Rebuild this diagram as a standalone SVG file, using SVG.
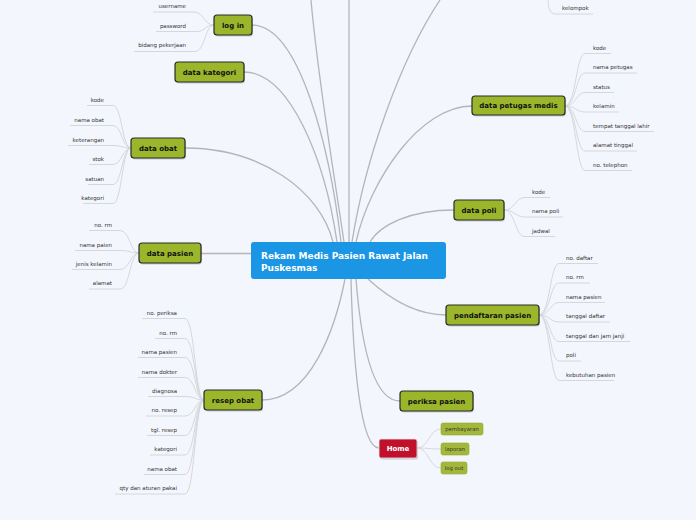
<svg xmlns="http://www.w3.org/2000/svg" width="696" height="520" viewBox="0 0 696 520">
<style>
.bg{fill:#f3f6fd}
.main{fill:none;stroke:#b5b5b8;stroke-width:1.3}
.leaf{fill:none;stroke:#d3d4d8;stroke-width:0.9}
.n{fill:#9cb62b;stroke:#2a2a2a;stroke-width:1.2}
.sh{fill:#000;opacity:0.18}
.nt{font-family:"DejaVu Sans",Verdana,sans-serif;font-weight:bold;font-size:7px;fill:#111;text-anchor:middle}
.lt{font-family:"DejaVu Sans",Verdana,sans-serif;font-size:5.5px;fill:#333}
.r{text-anchor:end}
.sub{fill:#a3b83a;stroke:#93a82e;stroke-width:0.6}
.st{font-family:"DejaVu Sans",Verdana,sans-serif;font-size:5.3px;fill:#333;text-anchor:middle}
</style>
<rect class="bg" width="696" height="520"/>
<g id="connectors">
<path class="main" d="M252 25 C300 25 330 150 341 242"/>
<path class="main" d="M244 72 C290 72 325 160 337 242"/>
<path class="main" d="M185 148 C260 148 320 190 333 242"/>
<path class="main" d="M311 0 C318 80 335 180 344 242"/>
<path class="main" d="M349 0 V242"/>
<path class="main" d="M440 0 C400 60 365 160 352 242"/>
<path class="main" d="M472 106 C420 106 370 180 356 242"/>
<path class="main" d="M454 210 C410 210 380 225 370 242"/>
<path class="main" d="M446 315 C410 315 380 290 368 279"/>
<path class="main" d="M400 401 C370 401 360 330 356 279"/>
<path class="main" d="M379 448 C360 448 353 360 351 279"/>
<path class="main" d="M262 400 C310 400 335 330 345 279"/>
<path class="main" d="M201 253.5 H251"/>
<path class="leaf" d="M548 0 C548 8 550 14 556 14 H593"/>
<path class="leaf" d="M153 12 H194 C204 12 204 25 214 25"/>
<path class="leaf" d="M156 31.5 H197 C205 31.5 205 25 214 25"/>
<path class="leaf" d="M134 51.5 H195 C205 51.5 205 25 214 25"/>
<path class="leaf" d="M87 105.5 H113 C122 105.5 122 148 131 148"/>
<path class="leaf" d="M70 125.5 H113 C122 125.5 122 148 131 148"/>
<path class="leaf" d="M68 145.5 H113 C122 145.5 122 148 131 148"/>
<path class="leaf" d="M89 164.5 H113 C122 164.5 122 148 131 148"/>
<path class="leaf" d="M88 184.5 H113 C122 184.5 122 148 131 148"/>
<path class="leaf" d="M83 203.5 H113 C122 203.5 122 148 131 148"/>
<path class="leaf" d="M89 230.5 H120 C130 230.5 130 253 139 253"/>
<path class="leaf" d="M75 250.5 H120 C130 250.5 130 253 139 253"/>
<path class="leaf" d="M72 269.5 H120 C130 269.5 130 253 139 253"/>
<path class="leaf" d="M89 289 H120 C130 289 130 253 139 253"/>
<path class="leaf" d="M142 318.5 H185 C195 318.5 195 400 204 400"/>
<path class="leaf" d="M155 338.5 H185 C195 338.5 195 400 204 400"/>
<path class="leaf" d="M138 357.5 H185 C195 357.5 195 400 204 400"/>
<path class="leaf" d="M138 377.5 H185 C195 377.5 195 400 204 400"/>
<path class="leaf" d="M148 396.5 H185 C195 396.5 195 400 204 400"/>
<path class="leaf" d="M146 416 H185 C195 416 195 400 204 400"/>
<path class="leaf" d="M147 435.5 H185 C195 435.5 195 400 204 400"/>
<path class="leaf" d="M150 455 H185 C195 455 195 400 204 400"/>
<path class="leaf" d="M144 474.5 H185 C195 474.5 195 400 204 400"/>
<path class="leaf" d="M115 494 H185 C195 494 195 400 204 400"/>
<path class="leaf" d="M565 106 C576 106 576 53.5 585 53.5 H611"/>
<path class="leaf" d="M565 106 C576 106 576 73 585 73 H637"/>
<path class="leaf" d="M565 106 C576 106 576 92.5 585 92.5 H614"/>
<path class="leaf" d="M565 106 C576 106 576 112 585 112 H619"/>
<path class="leaf" d="M565 106 C576 106 576 131.5 585 131.5 H654"/>
<path class="leaf" d="M565 106 C576 106 576 151 585 151 H637"/>
<path class="leaf" d="M565 106 C576 106 576 170.5 585 170.5 H632"/>
<path class="leaf" d="M504 210 C515 210 515 197.5 525 197.5 H550"/>
<path class="leaf" d="M504 210 C515 210 515 217 525 217 H563"/>
<path class="leaf" d="M504 210 C515 210 515 236.5 525 236.5 H555"/>
<path class="leaf" d="M539 315 C550 315 550 263.5 559 263.5 H598"/>
<path class="leaf" d="M539 315 C550 315 550 283 559 283 H590"/>
<path class="leaf" d="M539 315 C550 315 550 302.5 559 302.5 H605"/>
<path class="leaf" d="M539 315 C550 315 550 322 559 322 H610"/>
<path class="leaf" d="M539 315 C550 315 550 341.5 559 341.5 H630"/>
<path class="leaf" d="M539 315 C550 315 550 361 559 361 H581"/>
<path class="leaf" d="M539 315 C550 315 550 380.5 559 380.5 H614"/>
<path class="leaf" d="M417 448 C429 448 429 429 441 429"/>
<path class="leaf" d="M417 448 C429 448 429 449 441 449"/>
<path class="leaf" d="M417 448 C429 448 429 468 441 468"/>
</g>
<g id="kelompok"><text class="lt" x="562" y="10">kelompok</text></g>
<g id="center">
<rect x="251" y="242" width="195" height="37" rx="3" fill="#1a96e4"/>
<text x="261" y="259" font-family="DejaVu Sans,Verdana,sans-serif" font-weight="bold" font-size="9" fill="#fff">Rekam Medis Pasien Rawat Jalan</text>
<text x="261" y="270.5" font-family="DejaVu Sans,Verdana,sans-serif" font-weight="bold" font-size="9" fill="#fff">Puskesmas</text>
</g>
<g id="login">
<rect class="sh" x="215" y="16.5" width="38" height="20" rx="3"/>
<rect class="n" x="214" y="15" width="38" height="20" rx="3"/>
<text class="nt" x="233" y="27.5">log in</text>
<text class="lt r" x="186" y="8">username</text>
<text class="lt r" x="186" y="27.5">password</text>
<text class="lt r" x="186" y="47">bidang pekerjaan</text>
</g>
<g id="data-kategori">
<rect class="sh" x="176" y="63.5" width="69" height="20" rx="3"/>
<rect class="n" x="175" y="62" width="69" height="20" rx="3"/>
<text class="nt" x="209.5" y="74.5">data kategori</text>
</g>
<g id="data-obat">
<rect class="sh" x="132" y="139.5" width="54" height="20" rx="3"/>
<rect class="n" x="131" y="138" width="54" height="20" rx="3"/>
<text class="nt" x="158" y="150.5">data obat</text>
<text class="lt r" x="104" y="102">kode</text>
<text class="lt r" x="104" y="121.5">nama obat</text>
<text class="lt r" x="104" y="141.5">keterangan</text>
<text class="lt r" x="104" y="160.5">stok</text>
<text class="lt r" x="104" y="180.5">satuan</text>
<text class="lt r" x="104" y="199.5">kategori</text>
</g>
<g id="data-pasien">
<rect class="sh" x="140" y="244.5" width="62" height="20" rx="3"/>
<rect class="n" x="139" y="243" width="62" height="20" rx="3"/>
<text class="nt" x="170" y="255.5">data pasien</text>
<text class="lt r" x="112" y="226.5">no. rm</text>
<text class="lt r" x="112" y="246.5">nama paien</text>
<text class="lt r" x="112" y="265.5">jenis kelamin</text>
<text class="lt r" x="112" y="285">alamat</text>
</g>
<g id="resep-obat">
<rect class="sh" x="205" y="391.5" width="58" height="20" rx="3"/>
<rect class="n" x="204" y="390" width="58" height="20" rx="3"/>
<text class="nt" x="233" y="402.5">resep obat</text>
<text class="lt r" x="177" y="314.5">no. periksa</text>
<text class="lt r" x="177" y="334.5">no. rm</text>
<text class="lt r" x="177" y="353.5">nama pasien</text>
<text class="lt r" x="177" y="373.5">nama dokter</text>
<text class="lt r" x="177" y="392.5">diagnosa</text>
<text class="lt r" x="177" y="412">no. resep</text>
<text class="lt r" x="177" y="431.5">tgl. resep</text>
<text class="lt r" x="177" y="451">kategori</text>
<text class="lt r" x="177" y="470.5">nama obat</text>
<text class="lt r" x="177" y="490">qty dan aturan pakai</text>
</g>
<g id="data-petugas-medis">
<rect class="sh" x="473" y="97.5" width="93" height="19" rx="3"/>
<rect class="n" x="472" y="96" width="93" height="19" rx="3"/>
<text class="nt" x="518.5" y="108">data petugas medis</text>
<text class="lt" x="593" y="49.5">kode</text>
<text class="lt" x="593" y="69">nama petugas</text>
<text class="lt" x="593" y="88.5">status</text>
<text class="lt" x="593" y="108">kelamin</text>
<text class="lt" x="593" y="127.5">tempat tanggal lahir</text>
<text class="lt" x="593" y="147">alamat tinggal</text>
<text class="lt" x="593" y="166.5">no. telephon</text>
</g>
<g id="data-poli">
<rect class="sh" x="455" y="201.5" width="50" height="20" rx="3"/>
<rect class="n" x="454" y="200" width="50" height="20" rx="3"/>
<text class="nt" x="479" y="212.5">data poli</text>
<text class="lt" x="532" y="193.5">kode</text>
<text class="lt" x="532" y="213">nama poli</text>
<text class="lt" x="532" y="232.5">jadwal</text>
</g>
<g id="pendaftaran-pasien">
<rect class="sh" x="447" y="306.5" width="93" height="20" rx="3"/>
<rect class="n" x="446" y="305" width="93" height="20" rx="3"/>
<text class="nt" x="492.5" y="317.5">pendaftaran pasien</text>
<text class="lt" x="566" y="259.5">no. daftar</text>
<text class="lt" x="566" y="279">no. rm</text>
<text class="lt" x="566" y="298.5">nama pasien</text>
<text class="lt" x="566" y="318">tanggal daftar</text>
<text class="lt" x="566" y="337.5">tanggal dan jam janji</text>
<text class="lt" x="566" y="357">poli</text>
<text class="lt" x="566" y="376.5">kebutuhan pasien</text>
</g>
<g id="periksa-pasien">
<rect class="sh" x="401" y="392.5" width="73" height="20" rx="3"/>
<rect class="n" x="400" y="391" width="73" height="20" rx="3"/>
<text class="nt" x="436.5" y="403.5">periksa pasien</text>
</g>
<g id="home">
<rect class="sh" x="380" y="440.5" width="38" height="19" rx="2"/>
<rect x="379" y="439" width="38" height="19" rx="2" fill="#c0102c" stroke="#e8e8e8" stroke-width="0.8"/>
<text class="nt" x="398" y="451" style="fill:#fff">Home</text>
</g>
<g id="pembayaran">
<rect class="sub" x="441" y="423" width="42" height="12" rx="2"/>
<text class="st" x="462" y="431">pembayaran</text>
</g>
<g id="laporan">
<rect class="sub" x="441" y="443" width="28" height="12" rx="2"/>
<text class="st" x="455" y="451">laporan</text>
</g>
<g id="log-out">
<rect class="sub" x="441" y="462" width="26" height="12" rx="2"/>
<text class="st" x="454" y="470">log out</text>
</g>
</svg>
